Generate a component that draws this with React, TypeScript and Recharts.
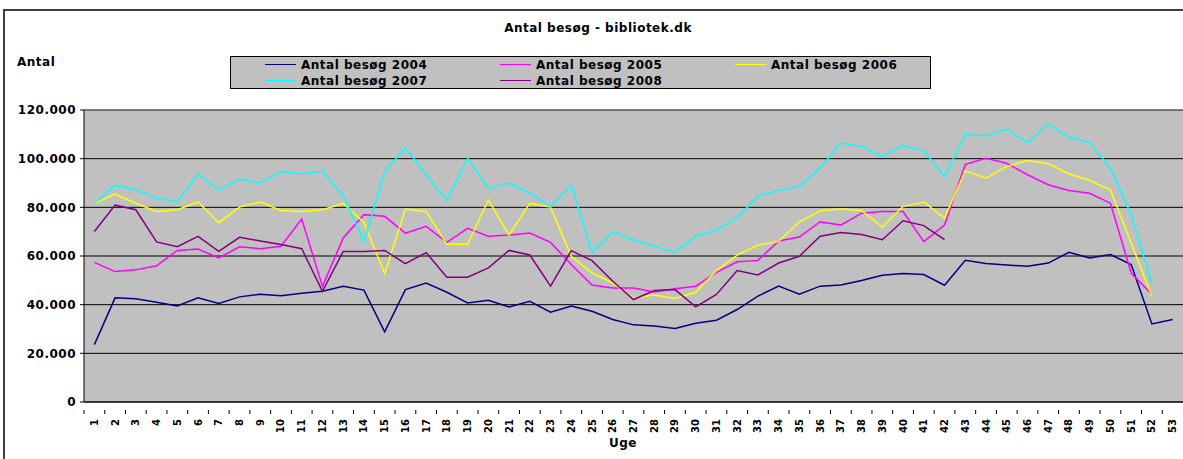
import React from "react";
import {
    LineChart,
    Line,
    XAxis,
    YAxis,
    CartesianGrid,
    ReferenceLine,
    Legend
} from "recharts";

const weeks = [
    1, 2, 3, 4, 5, 6, 7, 8, 9, 10, 11, 12, 13, 14, 15, 16, 17, 18, 19, 20, 21, 22, 23, 24, 25, 26, 27,
    28, 29, 30, 31, 32, 33, 34, 35, 36, 37, 38, 39, 40, 41, 42, 43, 44, 45, 46, 47, 48, 49, 50, 51, 52, 53
];

const visits2004 = [
    23600, 42800, 42400, 41000, 39500, 42800, 40500, 43200, 44300, 43700, 44700, 45500, 47600, 46000,
    28800, 46200, 48900, 45100, 40700, 41800, 39100, 41400, 36900, 39400, 37300, 33900, 31700, 31200,
    30200, 32400, 33600, 38000, 43500, 47600, 44300, 47600, 48100, 49900, 52100, 52800, 52400, 48000,
    58200, 56900, 56300, 55800, 57100, 61500, 59200, 60600, 56500, 32100, 33900
];
const visits2005 = [
    57400, 53600, 54300, 56000, 62300, 62900, 59200, 63800, 63000, 64000, 75200, 47500, 67400, 77000,
    76300, 69400, 72200, 65600, 71400, 68100, 68600, 69400, 65600, 56500, 48100, 46900, 46800, 45200,
    46500, 47600, 53300, 57600, 58200, 66200, 67800, 74100, 72700, 77600, 78300, 78300, 65900, 72700,
    97700, 100200, 98100, 93400, 89300, 86900, 85800, 81700, 53000, 44200, null
];
const visits2006 = [
    81500, 85400, 81700, 78300, 79000, 82200, 73700, 80100, 82200, 78700, 78300, 79000, 81600, 73800,
    52800, 79300, 78300, 64800, 64800, 83000, 68600, 81600, 80100, 59900, 53000, 48900, 42700, 44000,
    42500, 45100, 54000, 60400, 64400, 66000, 74000, 78500, 79400, 78700, 71900, 80400, 82200, 75600,
    95000, 92000, 96800, 99200, 97900, 93800, 91000, 87200, 65300, 43500, null
];
const visits2007 = [
    81700, 89000, 87200, 83700, 82200, 93800, 87200, 91600, 90000, 94700, 93800, 94900, 84800, 66000,
    94700, 104600, 93400, 82700, 100200, 87800, 90000, 85800, 80400, 89000, 61500, 70000, 66700, 64000,
    61500, 68100, 70500, 75900, 84500, 86900, 88600, 96100, 106400, 105000, 100900, 105400, 103300, 92700,
    109800, 109400, 112100, 106600, 114300, 108800, 106600, 96100, 77000, 48900, null
];
const visits2008 = [
    70100, 80900, 79000, 65800, 63800, 68100, 61900, 67700, 66200, 64700, 63000, 45500, 61900, 61900,
    62300, 56900, 61400, 51300, 51300, 55100, 62300, 60400, 47600, 62200, 58100, 49600, 42100, 45800,
    46200, 39100, 44200, 54000, 52200, 57100, 59900, 68100, 69700, 68800, 66700, 74500, 72500, 66700,
    null, null, null, null, null, null, null, null, null, null, null
];

const yTicks = [0, 20000, 40000, 60000, 80000, 100000, 120000];

const series = [
    { key: "y2004", name: "Antal besøg 2004", color: "#000080", values: visits2004 },
    { key: "y2005", name: "Antal besøg 2005", color: "#FF00FF", values: visits2005 },
    { key: "y2006", name: "Antal besøg 2006", color: "#FFFF00", values: visits2006 },
    { key: "y2007", name: "Antal besøg 2007", color: "#00FFFF", values: visits2007 },
    { key: "y2008", name: "Antal besøg 2008", color: "#800080", values: visits2008 },
];

const data = weeks.map((w, i) => {
    const row: any = { week: w };
    series.forEach(s => { row[s.key] = s.values[i]; });
    return row;
});

const FONT = "'DejaVu Sans', Verdana, sans-serif";
const CHART_W = 1183;
const CHART_H = 459;
const Y_AXIS_W = 84;
const PLOT_W = CHART_W - Y_AXIS_W;
const STEP = PLOT_W / weeks.length;

const fmt = (v: number) => String(v).replace(/\B(?=(\d{3})+(?!\d))/g, ".");

const WeekTick = ({ x, y, payload }: any) => (
    <g transform={`translate(${x},${y})`}>
        <line x1={-STEP / 2} x2={-STEP / 2} y1={0} y2={4} stroke="#000" />
        <text
            transform="rotate(-90)"
            x={-9}
            dy="0.35em"
            textAnchor="end"
            fontSize={10}
            fontWeight="bold"
            fontFamily={FONT}
            fill="#000"
        >
            {payload.value}
        </text>
    </g>
);

const LegendBox = () => {
    // Excel lays the legend out in three columns, row by row
    const cols = [0, 235, 470];
    return (
        <div
            style={{
                position: "relative",
                width: 699,
                height: 31,
                background: "#C0C0C0",
                border: "1px solid #000",
                fontFamily: FONT,
                fontSize: 12,
                fontWeight: "bold",
                letterSpacing: 0.5,
            }}
        >
            {series.map((s, i) => (
                <div
                    key={s.key}
                    style={{
                        position: "absolute",
                        left: 34 + cols[i % 3],
                        top: i < 3 ? 0 : 16,
                        height: 15,
                        display: "flex",
                        alignItems: "center",
                        whiteSpace: "nowrap",
                    }}
                >
                    <span style={{ display: "inline-block", width: 31, height: 1.5, background: s.color, marginRight: 5 }} />
                    <span>{s.name}</span>
                </div>
            ))}
        </div>
    );
};

export default function App() {
    return (
        <div style={{ position: "absolute", left: 0, top: 0, width: CHART_W, height: CHART_H, overflow: "hidden", background: "#fff" }}>
            <div style={{ position: "absolute", left: 3, top: 9, width: 1300, height: 600, borderLeft: "2px solid #404040", borderTop: "2px solid #404040" }} />
            <div style={{ position: "absolute", left: 0, top: 21, width: 1196, textAlign: "center", fontFamily: FONT, fontSize: 12, fontWeight: "bold", letterSpacing: 0.5 }}>
                Antal besøg - bibliotek.dk
            </div>
            <div style={{ position: "absolute", left: 17, top: 55, fontFamily: FONT, fontSize: 12, fontWeight: "bold", letterSpacing: 0.5 }}>
                Antal
            </div>
            <div style={{ position: "absolute", left: 0, top: 436, width: 1246, textAlign: "center", fontFamily: FONT, fontSize: 12, fontWeight: "bold", letterSpacing: 0.5 }}>
                Uge
            </div>
            <LineChart
                width={CHART_W}
                height={CHART_H}
                data={data}
                margin={{ top: 110, right: 0, bottom: 0, left: 0 }}
            >
                <CartesianGrid vertical={false} stroke="#000" fill="#C0C0C0" fillOpacity={1} />
                <XAxis
                    dataKey="week"
                    type="number"
                    domain={[0.5, 53.5]}
                    ticks={weeks}
                    interval={0}
                    allowDataOverflow
                    height={57}
                    axisLine={{ stroke: "#000" }}
                    tickLine={false}
                    tick={<WeekTick />}
                />
                <YAxis
                    domain={[0, 120000]}
                    ticks={yTicks}
                    width={Y_AXIS_W}
                    axisLine={{ stroke: "#000" }}
                    tickLine={{ stroke: "#000" }}
                    tickSize={4}
                    tickMargin={4}
                    tickFormatter={fmt}
                    tick={{ fill: "#000", fontSize: 12, fontWeight: "bold", fontFamily: FONT, letterSpacing: 0.5 }}
                />
                <ReferenceLine y={120000} stroke="#808080" />
                <Legend
                    layout="vertical"
                    verticalAlign="middle"
                    align="center"
                    wrapperStyle={{ left: 230, top: 56, width: 701, height: 33 }}
                    content={<LegendBox />}
                />
                {series.map(s => (
                    <Line
                        key={s.key}
                        dataKey={s.key}
                        name={s.name}
                        stroke={s.color}
                        strokeWidth={1.5}
                        dot={false}
                        activeDot={false}
                        type="linear"
                        isAnimationActive={false}
                    />
                ))}
            </LineChart>
        </div>
    );
}
